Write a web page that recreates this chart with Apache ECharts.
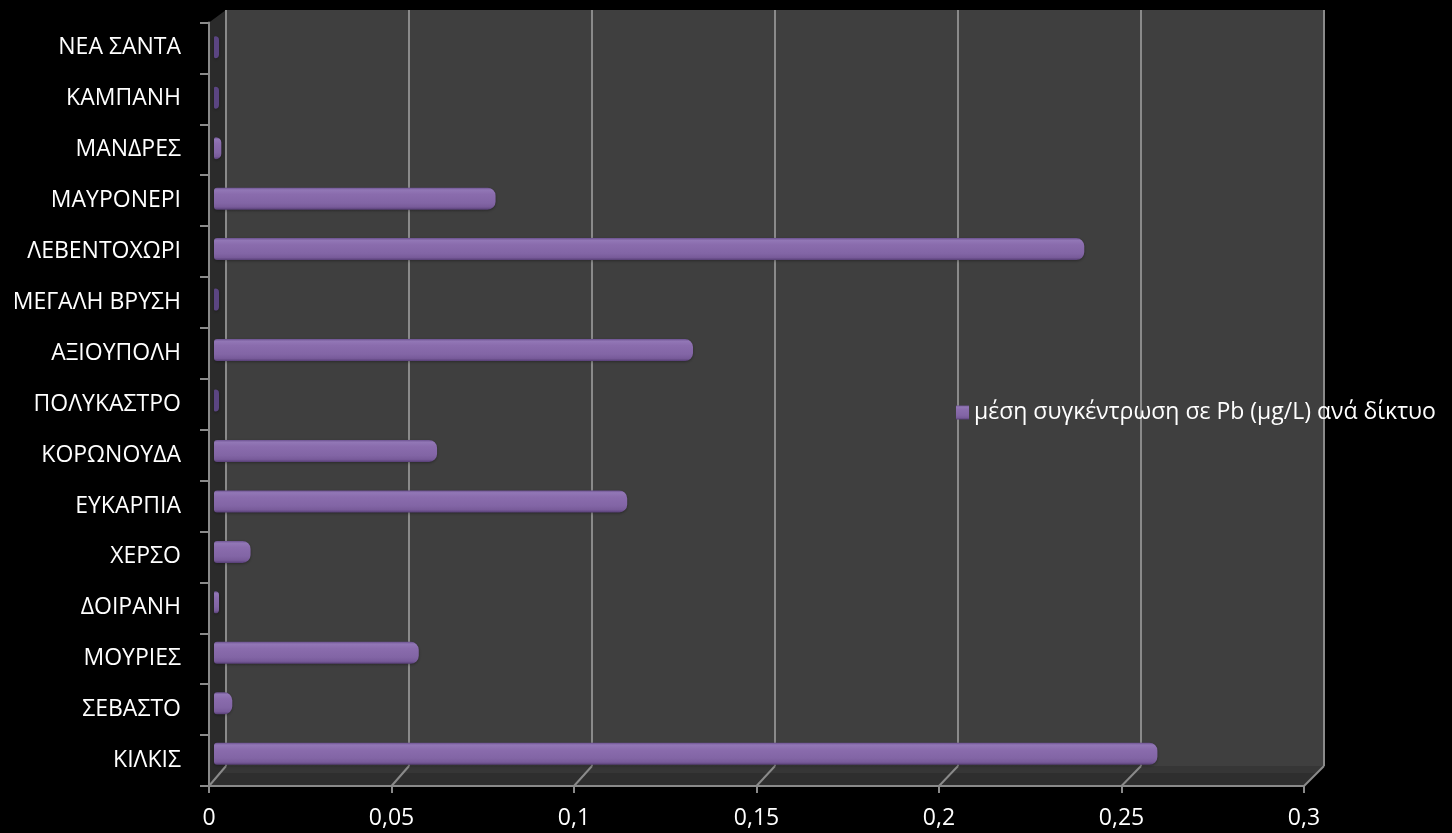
<!DOCTYPE html>
<html>
<head>
<meta charset="utf-8">
<title>Pb ανά δίκτυο</title>
<script src="https://cdn.jsdelivr.net/npm/echarts@6/dist/echarts.min.js"></script>
<style>
  html, body { margin: 0; padding: 0; background: #000; }
  #chart { width: 1452px; height: 833px; }
</style>
</head>
<body>
<div id="chart"></div>
<script>
// Networks, bottom to top
const categories = ['ΚΙΛΚΙΣ', 'ΣΕΒΑΣΤΟ', 'ΜΟΥΡΙΕΣ', 'ΔΟΙΡΑΝΗ', 'ΧΕΡΣΟ', 'ΕΥΚΑΡΠΙΑ', 'ΚΟΡΩΝΟΥΔΑ',
  'ΠΟΛΥΚΑΣΤΡΟ', 'ΑΞΙΟΥΠΟΛΗ', 'ΜΕΓΑΛΗ ΒΡΥΣΗ', 'ΛΕΒΕΝΤΟΧΩΡΙ', 'ΜΑΥΡΟΝΕΡΙ', 'ΜΑΝΔΡΕΣ', 'ΚΑΜΠΑΝΗ', 'ΝΕΑ ΣΑΝΤΑ'];
// Mean Pb concentration (μg/L) per network
const pbValues = [0.258, 0.005, 0.056, 0.001, 0.010, 0.113, 0.061,
  0, 0.131, 0, 0.238, 0.077, 0.002, 0, 0];
const seriesName = 'μέση συγκέντρωση σε Pb (μg/L) ανά δίκτυο';
const xTicks = [0, 0.05, 0.1, 0.15, 0.2, 0.25, 0.3];

const W = 1452, H = 833;
const FONT = '"Open Sans", "Noto Sans", sans-serif';
const FS = 23;
const fmt = v => String(v).replace('.', ',');

const chart = echarts.init(document.getElementById('chart'), null, { renderer: 'canvas' });

const barGradient = new echarts.graphic.LinearGradient(0, 0, 0, 1, [
  { offset: 0, color: '#6c5290' },
  { offset: 0.1, color: '#9277b6' },
  { offset: 0.3, color: '#8a6cad' },
  { offset: 0.7, color: '#8265a5' },
  { offset: 0.88, color: '#785b9a' },
  { offset: 1, color: '#573f76' }
]);

// back wall, front axes, bar plane
const back = { left: 226, right: W - 1324, top: 10, bottom: H - 766 };
const front = { left: 209, right: W - 1304, top: 22.5, bottom: H - 786 };
const bars = { left: 214, right: W - 1311, top: 22, bottom: H - 779 };

const option = {
  backgroundColor: '#000',
  animation: false,
  textStyle: { fontFamily: FONT },
  legend: {
    data: [seriesName],
    left: 951, top: 396,
    icon: 'rect', itemWidth: 13, itemHeight: 14, itemGap: 8,
    textStyle: { color: '#fff', fontSize: FS, fontFamily: FONT }
  },
  grid: [
    Object.assign({ show: true, backgroundColor: '#3f3f3f', borderWidth: 0 }, back),
    Object.assign({ show: false }, front),
    Object.assign({ show: false }, bars)
  ],
  xAxis: [
    {
      gridIndex: 0, type: 'value', min: 0, max: 0.3, interval: 0.05,
      axisLine: { show: false }, axisTick: { show: false }, axisLabel: { show: false },
      splitLine: { show: true, lineStyle: { color: '#8a8a8a', width: 2 } }
    },
    {
      gridIndex: 1, type: 'value', min: 0, max: 0.3, interval: 0.05,
      axisLine: { show: true, lineStyle: { color: '#8a8a8a', width: 2 } },
      axisTick: { show: true, length: 7, lineStyle: { color: '#8a8a8a', width: 2 } },
      axisLabel: { color: '#fff', fontSize: FS, margin: 21, formatter: v => fmt(v) },
      splitLine: { show: false }
    },
    {
      gridIndex: 2, type: 'value', min: 0, max: 0.3, show: false
    }
  ],
  yAxis: [
    { gridIndex: 0, type: 'category', data: categories, show: false },
    {
      gridIndex: 1, type: 'category', data: categories,
      axisLine: { show: true, lineStyle: { color: '#8a8a8a', width: 2 } },
      axisTick: { show: true, length: 9, lineStyle: { color: '#8a8a8a', width: 2 } },
      axisLabel: { color: '#fff', fontSize: FS, margin: 28 }
    },
    { gridIndex: 2, type: 'category', data: categories, show: false }
  ],
  series: [{
    name: seriesName,
    type: 'bar',
    xAxisIndex: 2, yAxisIndex: 2,
    barWidth: 22,
    barMinHeight: 5,
    data: pbValues.map(v => ({
      value: v,
      itemStyle: v === 0 ? { color: '#5b4582' } : undefined
    })),
    itemStyle: {
      color: barGradient,
      borderRadius: [3, 8, 8, 3],
      shadowColor: 'rgba(0,0,0,0.35)', shadowBlur: 3, shadowOffsetY: 1
    },
    z: 5
  }]
};

chart.setOption(option);

// Side wall, floor and the floor's receding grid lines
const bx = v => chart.convertToPixel({ xAxisIndex: 0 }, v);
const fx = v => chart.convertToPixel({ xAxisIndex: 1 }, v);
const backBottom = H - back.bottom, frontBottom = H - front.bottom;
const gfx = [
  {
    type: 'polygon', silent: true, z: -1,
    shape: { points: [[front.left, front.top], [back.left, back.top], [back.left, backBottom], [front.left, frontBottom]] },
    style: { fill: '#2b2b2b' }
  },
  {
    type: 'polygon', silent: true, z: -1,
    shape: { points: [[front.left, frontBottom], [back.left, backBottom], [W - back.right, backBottom], [W - front.right, frontBottom]] },
    style: { fill: '#2e2e2e' }
  },
  {
    type: 'polygon', silent: true, z: -1,
    shape: { points: [[back.left, backBottom], [W - back.right, backBottom], [W - back.right - 8, backBottom + 7], [back.left - 8, backBottom + 7]] },
    style: { fill: '#363636' }
  }
];
xTicks.forEach(v => {
  gfx.push({
    type: 'line', silent: true, z: 1,
    shape: { x1: bx(v), y1: backBottom, x2: fx(v), y2: frontBottom },
    style: { stroke: '#8a8a8a', lineWidth: 2 }
  });
});
chart.setOption({ graphic: gfx });
</script>
</body>
</html>
